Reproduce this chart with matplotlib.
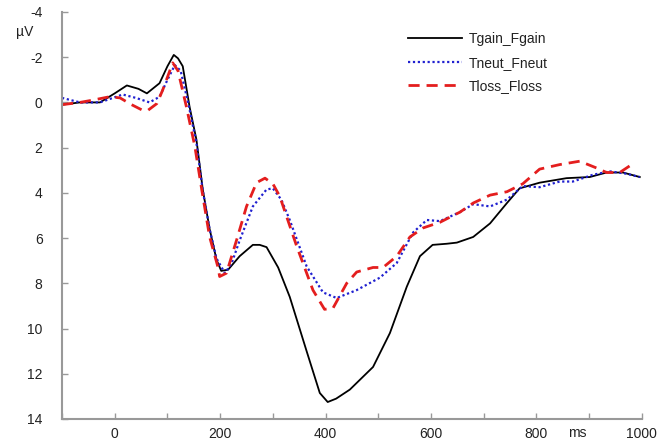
import matplotlib
matplotlib.use("Agg")
import matplotlib.pyplot as plt
from matplotlib.ticker import MultipleLocator

plt.rcParams['font.family'] = ['Liberation Sans', 'DejaVu Sans']
plt.rcParams['axes.unicode_minus'] = False

# values (time in ms, amplitude in µV)
gainTime = [-100, -66, -28, 0, 23, 45, 61, 85, 100, 112, 120, 129, 142, 155, 167, 180,
            193, 202, 215, 237, 262, 275, 288, 310, 332, 364, 389, 404, 420, 446, 490, 522,
            554, 579, 603, 630, 649, 680, 712, 744, 768, 806, 857, 901, 933, 964, 996]
gainAmp = [0.1, 0.0, 0.0, -0.4, -0.75, -0.6, -0.4, -0.85, -1.6, -2.1, -1.95, -1.6, 0.2,
           1.65, 3.85, 5.6, 6.95, 7.45, 7.4, 6.8, 6.3, 6.3, 6.4, 7.3, 8.6, 11.0, 12.85, 13.25,
           13.1, 12.7, 11.7, 10.2, 8.15, 6.8, 6.3, 6.25, 6.2, 5.95, 5.35, 4.45, 3.8, 3.55,
           3.35, 3.3, 3.1, 3.1, 3.3]

neutTime = [-100, -66, -28, 15, 40, 66, 85, 100, 114, 125, 140, 155, 167, 180, 193, 209,
            222, 237, 262, 288, 300, 316, 332, 364, 395, 421, 459, 503, 535, 566, 592,
            617, 655, 680, 712, 744, 774, 806, 844, 869, 907, 939, 970, 996]
neutAmp = [-0.2, 0.0, 0.0, -0.35, -0.2, 0.0, -0.25, -1.0, -1.65, -1.4, 0.1, 1.8, 3.9, 5.6,
           6.9, 7.55, 7.1, 6.1, 4.6, 3.85, 3.8, 4.3, 5.2, 7.25, 8.4, 8.65, 8.3, 7.75, 7.1,
           5.75, 5.2, 5.25, 4.85, 4.5, 4.6, 4.3, 3.7, 3.75, 3.5, 3.5, 3.2, 3.05, 3.15, 3.3]

lossTime = [-100, -66, -42, -10, 10, 32, 53, 63, 80, 91, 110, 120, 136, 152, 165, 180,
            196, 199, 212, 231, 250, 269, 285, 300, 313, 345, 376, 398, 414, 440, 459,
            490, 509, 535, 560, 585, 617, 655, 680, 712, 744, 774, 806, 844, 882, 914,
            933, 958, 987]
lossAmp = [0.1, 0.0, -0.1, -0.25, -0.2, 0.1, 0.35, 0.35, 0.05, -0.55, -1.75, -1.4, 0.2,
           1.95, 3.85, 5.95, 7.3, 7.7, 7.55, 6.1, 4.6, 3.55, 3.35, 3.6, 4.15, 6.35, 8.3,
           9.15, 9.1, 8.0, 7.5, 7.3, 7.3, 6.8, 5.95, 5.55, 5.3, 4.85, 4.45, 4.1, 3.95,
           3.6, 2.95, 2.75, 2.6, 2.9, 3.1, 3.1, 2.65]

seriesNames = ["Tgain_Fgain", "Tneut_Fneut", "Tloss_Floss"]

fig = plt.figure(figsize=(6.57, 4.43), dpi=100)
ax = fig.add_axes([0.0944, 0.0542, 0.8826, 0.9188])

ax.plot(gainTime, gainAmp, color="black", linewidth=1.3, label=seriesNames[0])
ax.plot(neutTime, neutAmp, color="#2020d0", linewidth=1.6, linestyle=(0, (1, 1.2)),
        label=seriesNames[1])
ax.plot(lossTime, lossAmp, color="#e41e1e", linewidth=2.0, linestyle=(0, (4, 2.5)),
        label=seriesNames[2])

# negative up, as usual for ERPs
ax.set_xlim(-100, 1000)
ax.set_ylim(14, -4)
ax.xaxis.set_major_locator(MultipleLocator(200))
ax.xaxis.set_minor_locator(MultipleLocator(100))
ax.yaxis.set_major_locator(MultipleLocator(2))

for side in ["top", "right"]:
    ax.spines[side].set_visible(False)
for side in ["left", "bottom"]:
    ax.spines[side].set_color("#999999")
    ax.spines[side].set_linewidth(1.5)

ax.tick_params(axis="x", which="both", direction="in", length=4, width=1,
               color="#999999", pad=6, labelsize=10, labelcolor="#222222")
ax.tick_params(axis="y", which="both", direction="in", length=4, width=1,
               color="#999999", pad=14, labelsize=10, labelcolor="#222222")

fig.text(0.038, 0.928, "µV", ha="center", va="center", fontsize=10, color="#222222")
fig.text(0.878, 0.022, "ms", ha="center", va="center", fontsize=10, color="#222222")

leg = ax.legend(loc="upper left", bbox_to_anchor=(0.621, 0.927),
                bbox_transform=fig.transFigure, frameon=False, fontsize=10,
                handlelength=3.9, handletextpad=0.5, labelspacing=0.68,
                borderpad=0, borderaxespad=0)
for t in leg.get_texts():
    t.set_color("#222222")

fig.savefig("out.png", dpi=100)
